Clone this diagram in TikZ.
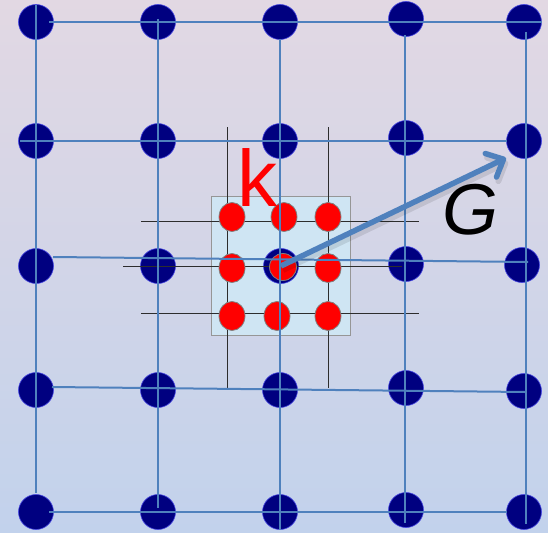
\documentclass[tikz,border=0pt]{standalone}
\usepackage{fontspec}
\setmainfont{Liberation Sans}
\usetikzlibrary{arrows.meta,shapes.geometric}
\definecolor{bgtop}{RGB}{226,216,227}
\definecolor{bgbot}{RGB}{194,210,236}
\definecolor{navydot}{RGB}{0,0,128}
\definecolor{dotrim}{RGB}{70,70,225}
\definecolor{gridblue}{RGB}{79,129,189}
\definecolor{sqfill}{RGB}{207,229,243}
\definecolor{sqedge}{RGB}{150,150,150}
\definecolor{finegrid}{RGB}{45,45,45}
\definecolor{redrim}{RGB}{128,128,128}
\begin{document}
\begin{tikzpicture}[x=1pt,y=-1pt,
  dot/.style={circle,fill=navydot,draw=dotrim,line width=0.6pt,minimum size=35pt,inner sep=0pt},
  rdot/.style={ellipse,fill=red,draw=redrim,line width=0.8pt,minimum width=26pt,minimum height=29pt,inner sep=0pt},
  gline/.style={draw=gridblue,line width=2pt},
  fline/.style={draw=finegrid,line width=0.8pt},
  sqbox/.style={fill=sqfill,draw=sqedge,line width=0.9pt},
  garrow/.style={draw=gridblue,line width=5.5pt,-{Straight Barb[length=14pt,width=26pt,line width=5.5pt,round]}},
  gshadow/.style={draw=black,opacity=0.1,line width=6pt,-{Straight Barb[length=14pt,width=26pt,line width=6pt,round]}}]
\shade[top color=bgtop,bottom color=bgbot] (0,0) rectangle (548,532);
\useasboundingbox (0,0) rectangle (548,532);

% square of the kernel
\path[sqbox] (211,196) rectangle (350,335);

% navy grid dots
\node[dot] (d11) at (36,22) {};
\node[dot] (d12) at (158,22) {};
\node[dot] (d13) at (280,22) {};
\node[dot] (d14) at (406,19) {};
\node[dot] (d15) at (524,22) {};
\node[dot] (d21) at (36,141) {};
\node[dot] (d22) at (158,141) {};
\node[dot] (d23) at (280,141) {};
\node[dot] (d24) at (406,138) {};
\node[dot] (d25) at (524,141) {};
\node[dot] (d31) at (36,266) {};
\node[dot] (d32) at (158,266) {};
\node[dot] (d33) at (281,266) {};
\node[dot] (d34) at (406,264) {};
\node[dot] (d35) at (522,265) {};
\node[dot] (d41) at (36,390) {};
\node[dot] (d42) at (158,390) {};
\node[dot] (d43) at (280,390) {};
\node[dot] (d44) at (406,388) {};
\node[dot] (d45) at (524,391) {};
\node[dot] (d51) at (36,512) {};
\node[dot] (d52) at (158,512) {};
\node[dot] (d53) at (280,512) {};
\node[dot] (d54) at (406,510) {};
\node[dot] (d55) at (524,512) {};

% fine black kernel lines
\coordinate (fv1t) at (227,127); \coordinate (fv1b) at (227,388);
\coordinate (fv2t) at (328,127); \coordinate (fv2b) at (328,388);
\coordinate (fh1l) at (141,221); \coordinate (fh1r) at (419,221);
\coordinate (fh2l) at (123,266); \coordinate (fh2r) at (402,266);
\coordinate (fh3l) at (141,313); \coordinate (fh3r) at (419,313);
\draw[fline] (fv1t) -- (fv1b);
\draw[fline] (fv2t) -- (fv2b);
\draw[fline] (fh1l) -- (fh1r);
\draw[fline] (fh2l) -- (fh2r);
\draw[fline] (fh3l) -- (fh3r);

% red kernel dots
\node[rdot] (r1) at (232,217) {};
\node[rdot] (r2) at (284,217) {};
\node[rdot] (r3) at (328,217) {};
\node[rdot] (r4) at (232,268) {};
\node[rdot,minimum width=27pt,minimum height=27pt] (r5) at (283,267) {};
\node[rdot] (r6) at (328,268) {};
\node[rdot] (r7) at (232,316) {};
\node[rdot] (r8) at (277,316) {};
\node[rdot] (r9) at (328,316) {};

% blue grid lines
\coordinate (h1l) at (49,22);  \coordinate (h1r) at (542,22);
\coordinate (h2l) at (20,141); \coordinate (h2r) at (507,141);
\coordinate (h3l) at (53,257); \coordinate (h3r) at (528,262);
\coordinate (h4l) at (52,387); \coordinate (h4r) at (525,392);
\coordinate (h5l) at (49,512); \coordinate (h5r) at (507,512);
\coordinate (v1t) at (36,5);   \coordinate (v1b) at (36,493);
\coordinate (v2t) at (158,19); \coordinate (v2b) at (158,508);
\coordinate (v3t) at (280,39); \coordinate (v3b) at (280,530);
\coordinate (v4t) at (405,35); \coordinate (v4b) at (405,523);
\coordinate (v5t) at (526,32); \coordinate (v5b) at (526,524);
\draw[gline] (h1l) -- (h1r);
\draw[gline] (h2l) -- (h2r);
\draw[gline] (h3l) -- (h3r);
\draw[gline] (h4l) -- (h4r);
\draw[gline] (h5l) -- (h5r);
\draw[gline] (v1t) -- (v1b);
\draw[gline] (v2t) -- (v2b);
\draw[gline] (v3t) -- (v3b);
\draw[gline] (v4t) -- (v4b);
\draw[gline] (v5t) -- (v5b);

% gradient arrow G
\coordinate (gtip) at (506,158);
\coordinate (gtips) at (508,162);
\coordinate (d33s) at (283,270);
\draw[gshadow] (d33s) -- (gtips);
\draw[garrow] (d33.center) -- (gtip);

% labels
\node[font=\fontsize{80}{90}\selectfont,text=red,anchor=base,inner sep=0pt] (k) at (257,206) {k};
\node[font=\fontsize{72}{80}\selectfont\itshape,text=black,anchor=base,inner sep=0pt] (G) at (470,234) {G};
\end{tikzpicture}
\end{document}
